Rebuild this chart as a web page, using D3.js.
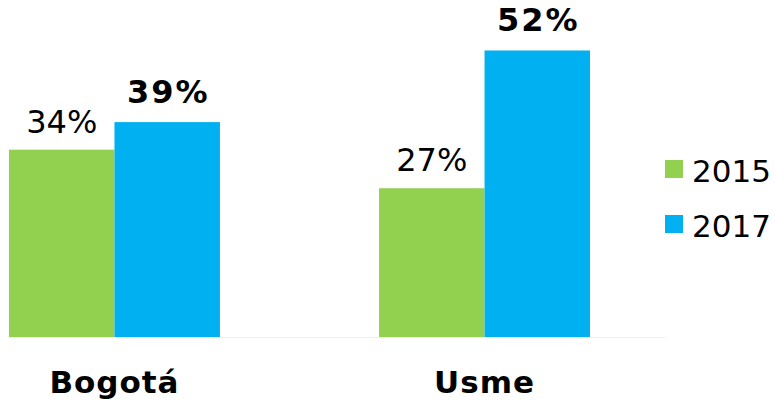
<!DOCTYPE html>
<html>
<head>
<meta charset="utf-8">
<script src="https://cdn.jsdelivr.net/npm/d3@7"></script>
<style>
  body { margin: 0; background: #fff; }
  svg { display: block; font-family: "DejaVu Sans", Verdana, sans-serif; }
  .val { font-size: 32px; fill: #000; }
  .val.bold { font-weight: bold; letter-spacing: 2px; }
  .cat { font-size: 31px; font-weight: bold; letter-spacing: 1px; }
  .leg { font-size: 31px; }
</style>
</head>
<body>
<svg id="chart"></svg>
<script>
var categories = ["Bogotá", "Usme"];
var years = ["2015", "2017"];
var values2015 = [34, 27];
var values2017 = [39, 52];
var colors = ["#92D050", "#00B0F0"];

var width = 775, height = 401;
var svg = d3.select("#chart").attr("width", width).attr("height", height);

var baseY = 337;

var x0 = d3.scaleBand().domain(categories).range([9, 590]).paddingInner(0.43).paddingOuter(0);
var x1 = d3.scaleBand().domain(years).range([0, x0.bandwidth()]);
var y = d3.scaleLinear().domain([0, 60]).range([baseY, baseY - 60 * 5.51]);

var rows = [];
categories.forEach(function(c, i) {
  rows.push({ cat: c, year: "2015", v: values2015[i], bold: false });
  rows.push({ cat: c, year: "2017", v: values2017[i], bold: true });
});

// baseline
svg.append("line")
  .attr("x1", 8).attr("x2", 665)
  .attr("y1", baseY + 0.5).attr("y2", baseY + 0.5)
  .attr("stroke", "#efefef").attr("stroke-width", 1);

svg.selectAll("rect.bar").data(rows).enter().append("rect")
  .attr("class", "bar")
  .attr("x", function(d) { return x0(d.cat) + x1(d.year); })
  .attr("width", x1.bandwidth())
  .attr("y", function(d) { return y(d.v); })
  .attr("height", function(d) { return y(0) - y(d.v); })
  .attr("fill", function(d) { return colors[years.indexOf(d.year)]; });

svg.selectAll("text.val").data(rows).enter().append("text")
  .attr("class", function(d) { return d.bold ? "val bold" : "val"; })
  .attr("text-anchor", "middle")
  .attr("x", function(d) { return x0(d.cat) + x1(d.year) + x1.bandwidth() / 2 + (d.bold ? 1 : 0); })
  .attr("y", function(d) { return y(d.v) - (d.bold ? 19 : 17); })
  .text(function(d) { return d.v + "%"; });

svg.selectAll("text.cat").data(categories).enter().append("text")
  .attr("class", "cat")
  .attr("text-anchor", "middle")
  .attr("x", function(d) { return x0(d) + x0.bandwidth() / 2; })
  .attr("y", 393)
  .text(function(d) { return d; });

// legend
var leg = svg.selectAll("g.leg").data(years).enter().append("g")
  .attr("transform", function(d, i) { return "translate(665," + (160 + i * 55) + ")"; });
leg.append("rect").attr("width", 18).attr("height", 18)
  .attr("fill", function(d, i) { return colors[i]; });
leg.append("text").attr("class", "leg")
  .attr("x", 27).attr("y", 22)
  .text(function(d) { return d; });
</script>
</body>
</html>
